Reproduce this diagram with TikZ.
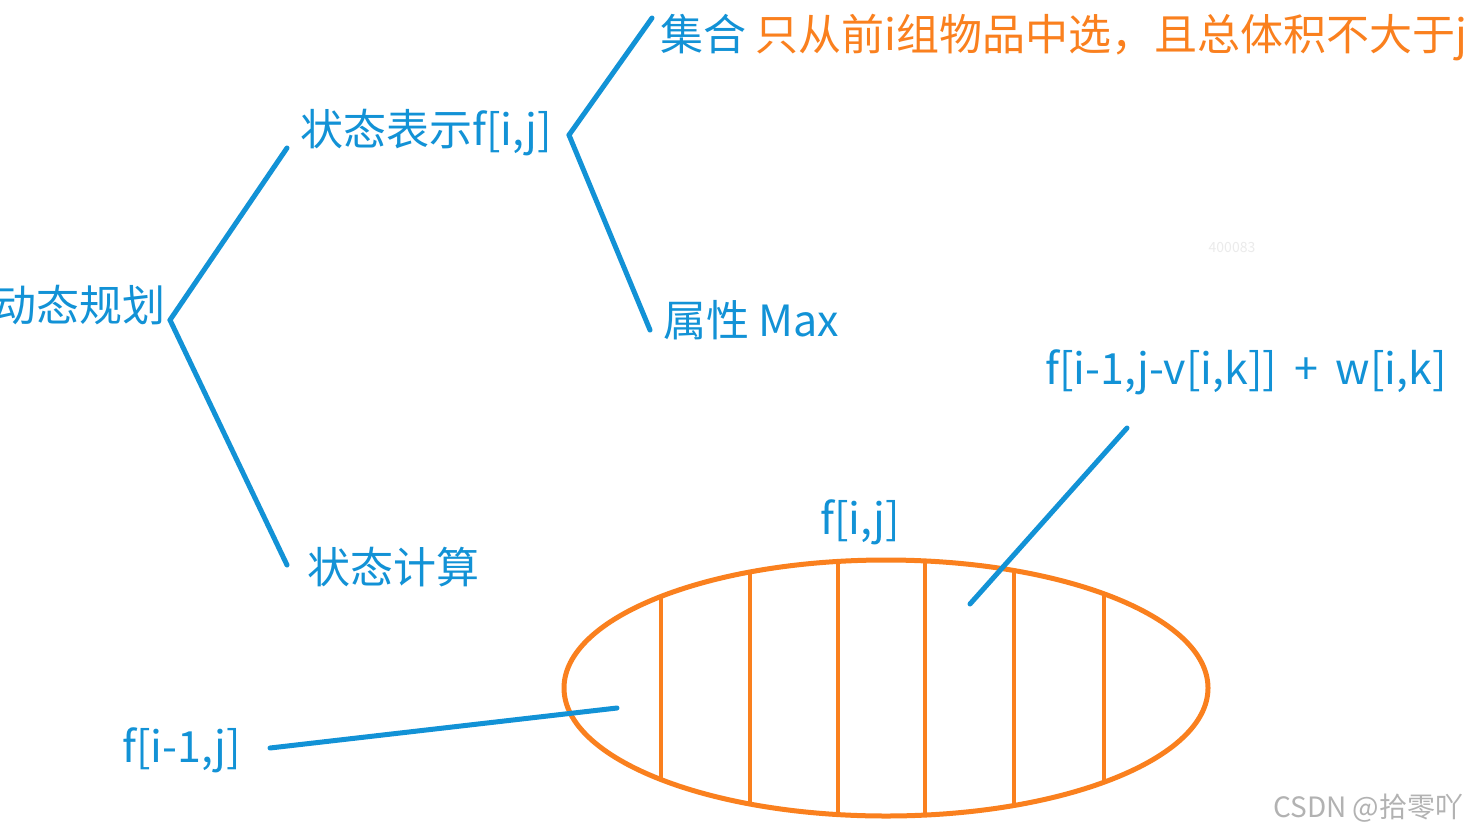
\documentclass[tikz,border=0pt]{standalone}
\usepackage{fontspec}
\setmainfont{Noto Sans CJK SC}
\definecolor{dpblue}{RGB}{18,146,214}
\definecolor{dporange}{RGB}{250,128,30}
\newcommand{\ORANGE}[1]{\textcolor{dporange}{#1}}

\begin{document}
\begin{tikzpicture}[x=1pt,y=-1pt,
    lbl/.style={text=dpblue,inner sep=0pt,font=\fontsize{43}{48}\selectfont},
    stroke/.style={dpblue,line width=5pt,line cap=round}]
    \useasboundingbox[fill=white] (0,0) rectangle (1471,835);

    % tree
    \node[lbl,anchor=east] (dp) at (166,305) {动态规划};
    \node[lbl,anchor=west] (rep) at (300,133) {状态表示f[i,j]};
    \node[lbl,anchor=west] (calc) at (307,567) {状态计算};
    \node[lbl,anchor=west] (set) at (660,38) {集合 \ORANGE{只从前i组物品中选，且总体积不大于j}};
    \node[lbl,anchor=west] (attr) at (663,320) {属性 Max};

    \coordinate (r0) at (170,320);
    \coordinate (r1) at (287,148);
    \coordinate (r2) at (287,565);
    \coordinate (s0) at (569,135);
    \coordinate (s1) at (652,18);
    \coordinate (s2) at (650,330);

    \draw[stroke] (r0) -- (r1);
    \draw[stroke] (r0) -- (r2);
    \draw[stroke] (s0) -- (s1);
    \draw[stroke] (s0) -- (s2);

    % the set f[i,j], split by k
    \coordinate (c) at (886,688);
    \begin{scope}
      \clip (c) ellipse (322 and 128);
      \foreach \x in {661,750,838,925,1014,1104} {
        \draw[dporange,line width=4pt] (\x,540) -- (\x,840);
      }
    \end{scope}
    \draw[dporange,line width=5pt] (c) ellipse (322 and 128);

    \node[lbl] (fij) at (860,522) {f[i,j]};
    \node[lbl,anchor=west] (fk) at (1045,372) {f[i-1,j-v[i,k]]\hspace{0.4em}+\hspace{0.4em}w[i,k]};
    \node[lbl,anchor=west] (f0) at (122,750) {f[i-1,j]};

    \coordinate (k1) at (1127,428);
    \coordinate (k2) at (970,604);
    \coordinate (z1) at (270,748);
    \coordinate (z2) at (617,708);
    \draw[stroke] (k1) -- (k2);
    \draw[stroke] (z1) -- (z2);

    % watermarks
    \node[text=black!8,font=\fontsize{14}{16}\selectfont] (wm) at (1232,248) {400083};
    \node[text=black!30,anchor=east,font=\fontsize{28}{32}\selectfont] (csdn) at (1467,808) {CSDN @拾零吖};
\end{tikzpicture}
\end{document}
